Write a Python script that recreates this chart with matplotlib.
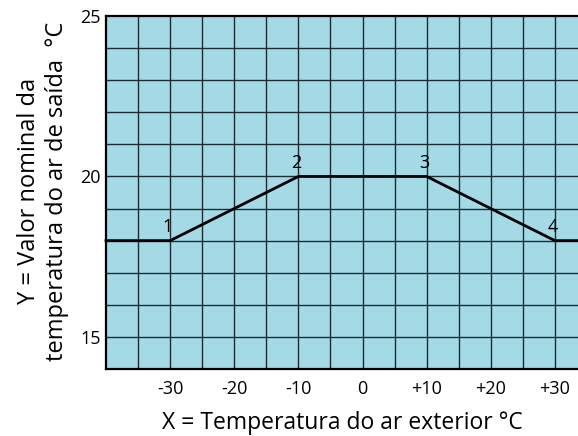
import matplotlib.pyplot as plt
import numpy as np

plt.rcParams['font.family'] = ['Open Sans', 'DejaVu Sans']

# curve of set value vs outdoor temperature
curve_x = [-40, -30, -10, 10, 30, 33.6]
curve_y = [18, 18, 20, 20, 18, 18]

point_labels = ['1', '2', '3', '4']
point_x = [-30, -10, 10, 30]
point_y = [18, 20, 20, 18]

xticks = [-30, -20, -10, 0, 10, 20, 30]
xtick_labels = ['-30', '-20', '-10', '0', '+10', '+20', '+30']
yticks = [15, 20, 25]

fig = plt.figure(figsize=(5.78, 4.36), dpi=100)
ax = fig.add_axes([0.1834, 0.1537, 0.8166, 0.8096])
ax.set_facecolor('#a4d9e6')
ax.set_xlim(-40, 33.6)
ax.set_ylim(14, 25)

for gx in np.arange(-35, 33, 5):
    ax.axvline(gx, color='#1e2c32', lw=1.0, zorder=1)
for gy in np.arange(15, 25, 1):
    ax.axhline(gy, color='#1e2c32', lw=1.0, zorder=1)

ax.plot(curve_x, curve_y, color='black', lw=2.0, zorder=3, clip_on=False)

for lab, px, py in zip(point_labels, point_x, point_y):
    ax.text(px - 0.4, py + 0.15, lab, ha='center', va='bottom', fontsize=13, zorder=4)

ax.set_xticks(xticks)
ax.set_xticklabels(xtick_labels)
ax.set_yticks(yticks)
ax.tick_params(length=0, labelsize=13)
ax.tick_params(axis='x', pad=8)
ax.tick_params(axis='y', pad=4)
ax.spines['right'].set_visible(False)
for s in ['top', 'left', 'bottom']:
    ax.spines[s].set_linewidth(1.6)

ax.set_xlabel('X = Temperatura do ar exterior °C', fontsize=16.5, labelpad=9)
fig.text(0.074, 0.562, 'Y = Valor nominal da\ntemperatura do ar de saída  °C',
         rotation=90, ha='center', va='center', multialignment='center',
         fontsize=17, linespacing=1.2)

fig.savefig('out.png', dpi=100)
